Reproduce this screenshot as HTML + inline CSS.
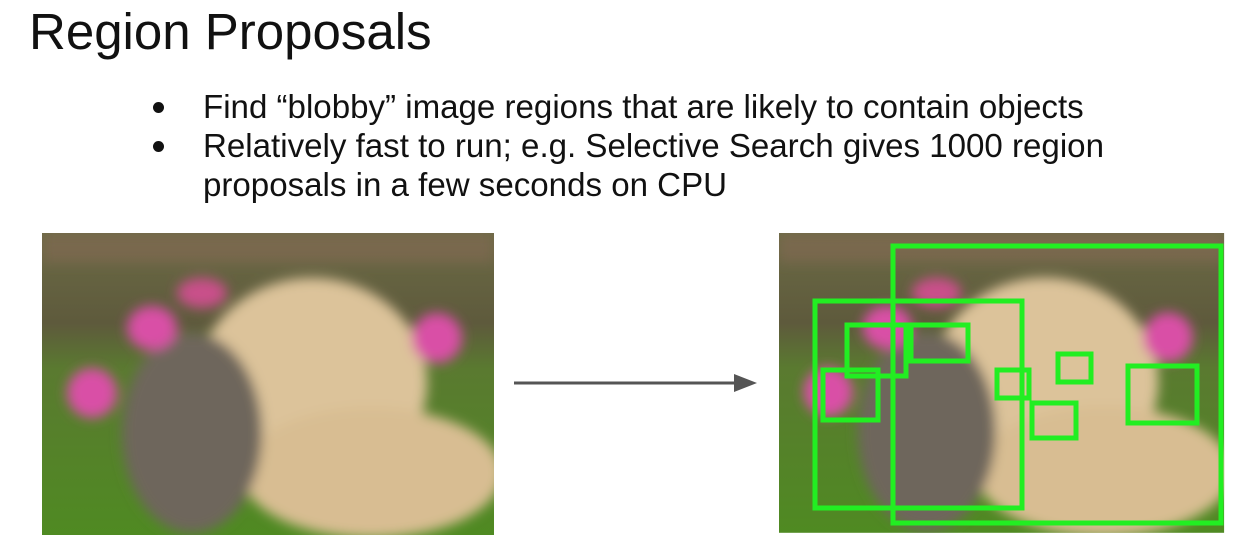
<!DOCTYPE html>
<html><head><meta charset="utf-8"><style>
html,body{margin:0;padding:0;background:#fff;}
body{width:1244px;height:540px;position:relative;overflow:hidden;font-family:"Liberation Sans",sans-serif;color:#111;}
.t{position:absolute;left:29px;top:2px;font-size:51px;line-height:60px;}
.b{position:absolute;left:203px;font-size:33.1px;line-height:39px;white-space:nowrap;}
.d{position:absolute;left:153px;width:11px;height:11px;border-radius:50%;background:#111;}
</style></head><body>
<div class="t">Region Proposals</div>
<div class="d" style="top:102px"></div>
<div class="b" style="top:88px">Find “blobby” image regions that are likely to contain objects</div>
<div class="d" style="top:141px"></div>
<div class="b" style="top:127px">Relatively fast to run; e.g. Selective Search gives 1000 region<br>proposals in a few seconds on CPU</div>

<svg width="1244" height="540" style="position:absolute;left:0;top:0">
<defs>
<linearGradient id="bg" x1="0" y1="0" x2="0" y2="1">
<stop offset="0" stop-color="#6b6a45"/><stop offset="0.3" stop-color="#5e5a3c"/>
<stop offset="0.45" stop-color="#5a7a30"/><stop offset="1" stop-color="#4f8a22"/></linearGradient>
<filter id="bl"><feGaussianBlur stdDeviation="6"/></filter>
<clipPath id="cp"><rect width="452" height="302"/></clipPath>
<g id="img" clip-path="url(#cp)">
<rect width="452" height="302" fill="url(#bg)"/>
<g filter="url(#bl)">
<ellipse cx="270" cy="150" rx="115" ry="105" fill="#dcc39a"/>
<ellipse cx="330" cy="240" rx="130" ry="65" fill="#d8bd92"/>
<ellipse cx="150" cy="200" rx="70" ry="100" fill="#6e665c"/>
<ellipse cx="110" cy="95" rx="25" ry="22" fill="#d94fa6"/>
<ellipse cx="50" cy="160" rx="25" ry="25" fill="#d94fa6"/>
<ellipse cx="395" cy="105" rx="25" ry="25" fill="#d94fa6"/>
<ellipse cx="160" cy="60" rx="25" ry="15" fill="#c9508a"/>
<rect x="0" y="0" width="452" height="30" fill="#8a6a55" opacity="0.5"/>
</g>
</g>
</defs>
<use href="#img" x="42" y="233"/>
<g transform="translate(779,233) scale(0.985,0.993)"><use href="#img"/></g>
<line x1="514" y1="383" x2="740" y2="383" stroke="#555" stroke-width="3"/>
<polygon points="757,383 734,374 734,392" fill="#555"/>
<g fill="none" stroke="#22ee22" stroke-width="5">
<rect x="893" y="246" width="328" height="277"/>
<rect x="815" y="301" width="207" height="207"/>
<rect x="847" y="325" width="59" height="51"/>
<rect x="911" y="325" width="57" height="36"/>
<rect x="823" y="370" width="55" height="50"/>
<rect x="997" y="370" width="32" height="28"/>
<rect x="1058" y="354" width="33" height="28"/>
<rect x="1032" y="403" width="44" height="35"/>
<rect x="1128" y="366" width="69" height="57"/>
</g>
</svg>
</body></html>
